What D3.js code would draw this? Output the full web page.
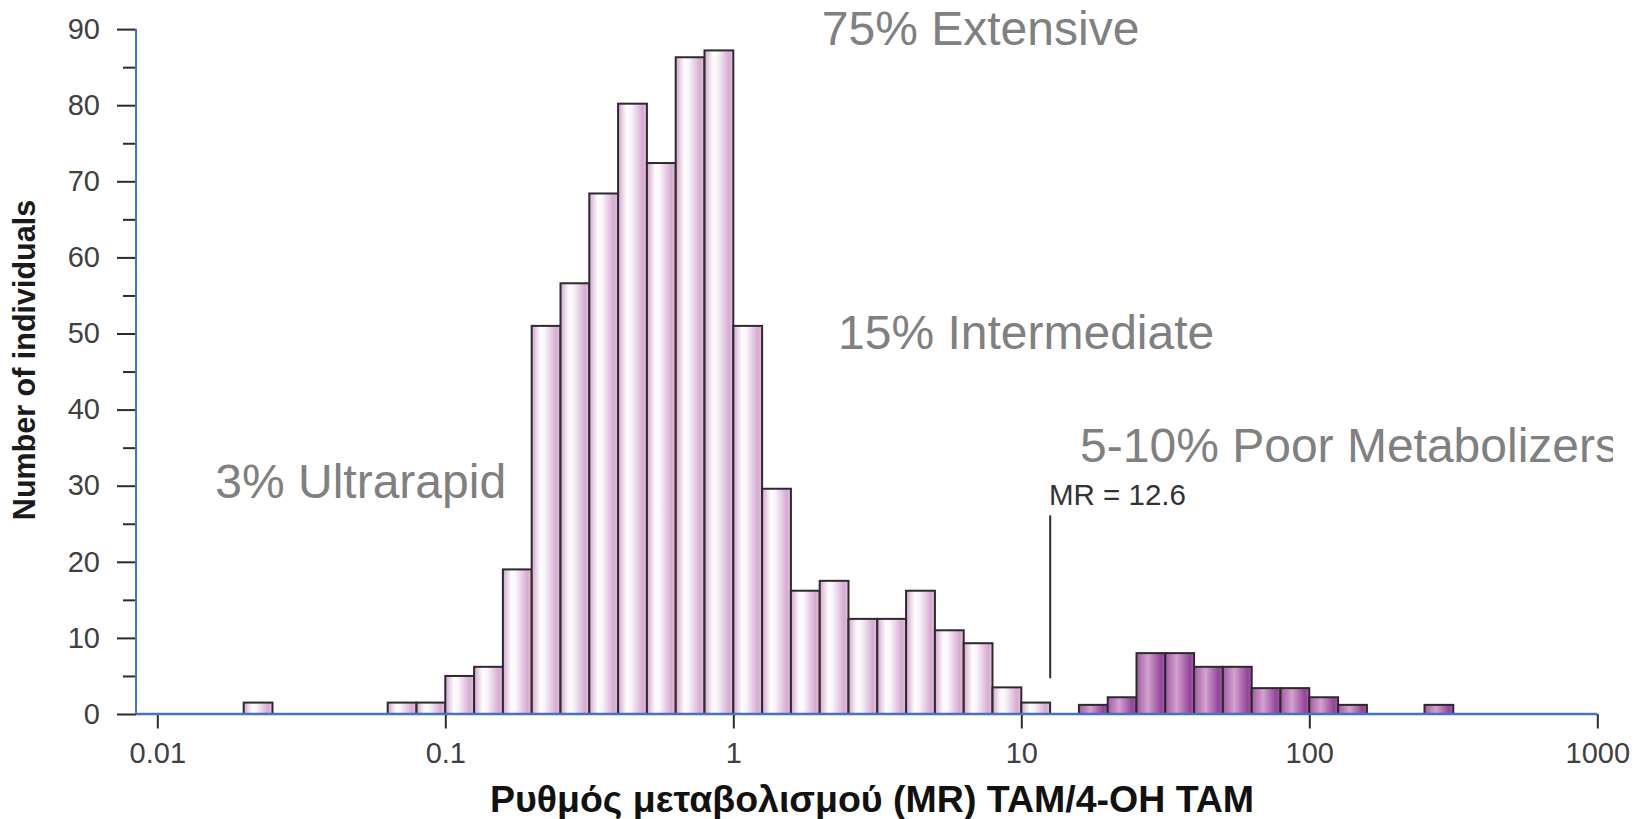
<!DOCTYPE html>
<html>
<head>
<meta charset="utf-8">
<script src="https://cdn.jsdelivr.net/npm/d3@7"></script>
<style>
  html, body { margin: 0; padding: 0; background: #ffffff; }
  svg { display: block; }
  text { font-family: "Liberation Sans", Arial, Helvetica, sans-serif; }
</style>
</head>
<body>
<svg id="chart" width="1644" height="819"></svg>
<script>
// Histogram of tamoxifen metabolic ratio (log bins, 10 per decade).
// Each bin is identified by the log10 of its lower edge.
const binWidthExp = 0.1;

// Ultrarapid / extensive / intermediate metabolizers
const mainBinExps = [-1.7, -1.2, -1.1, -1.0, -0.9, -0.8, -0.7, -0.6, -0.5, -0.4,
                     -0.3, -0.2, -0.1, 0.0, 0.1, 0.2, 0.3, 0.4, 0.5, 0.6,
                     0.7, 0.8, 0.9, 1.0];
const mainCounts   = [1.5, 1.5, 1.5, 5, 6.2, 19, 51, 56.6, 68.4, 80.2,
                      72.4, 86.3, 87.2, 51, 29.6, 16.2, 17.5, 12.5, 12.5, 16.2,
                      11, 9.3, 3.5, 1.5];

// Poor metabolizers
const poorBinExps = [1.2, 1.3, 1.4, 1.5, 1.6, 1.7, 1.8, 1.9, 2.0, 2.1, 2.4];
const poorCounts  = [1.2, 2.2, 8, 8, 6.2, 6.2, 3.4, 3.4, 2.2, 1.2, 1.2];

// Axis ticks
const xTickValues = [0.01, 0.1, 1, 10, 100, 1000];
const xTickLabels = ["0.01", "0.1", "1", "10", "100", "1000"];
const yMajorTicks = [0, 10, 20, 30, 40, 50, 60, 70, 80, 90];
const yMinorTicks = [5, 15, 25, 35, 45, 55, 65, 75, 85];

// Cut-off between intermediate and poor metabolizers
const mrCutoff = 12.6;
const mrLineRange = [4.7, 26.1];

// Group labels, anchored in data coordinates (MR, count)
const groupLabels = [
  { text: "75% Extensive",           mr: 2.03,   count: 87.9 },
  { text: "15% Intermediate",        mr: 2.31,   count: 47.95 },
  { text: "5-10% Poor Metabolizers", mr: 16.0,   count: 33.15 },
  { text: "3% Ultrarapid",           mr: 0.0159, count: 28.4 }
];

const svg = d3.select("#chart");

const x = d3.scaleLog().domain([0.01, 1000]).range([157.3, 1597.3]);
const y = d3.scaleLinear().domain([0, 90]).range([714, 29.1]);
const axisX0 = 136; // position of the vertical axis line

// Gradients for the cylinder-like bar shading
const defs = svg.append("defs");
function gradient(id, stops) {
  const g = defs.append("linearGradient").attr("id", id)
    .attr("x1", 0).attr("x2", 1).attr("y1", 0).attr("y2", 0);
  stops.forEach(([o, c]) => g.append("stop").attr("offset", o).attr("stop-color", c));
}
gradient("gradMain", [[0, "#d3a4ce"], [0.3, "#ffffff"], [0.45, "#fbf4fa"], [0.85, "#d7aad3"], [1, "#e4c7e1"]]);
gradient("gradPoor", [[0, "#a25aa5"], [0.4, "#d3a2cf"], [0.85, "#93449a"], [1, "#a65eaa"]]);

// The annotation text is cut at the right edge of the figure area
defs.append("clipPath").attr("id", "textClip")
  .append("rect").attr("x", 0).attr("y", 0).attr("width", 1613).attr("height", 819);

function drawBars(exps, counts, fill, cls) {
  const data = exps.map((e, i) => ({ lo: Math.pow(10, e), hi: Math.pow(10, e + binWidthExp), n: counts[i] }));
  svg.append("g").attr("class", cls)
    .selectAll("rect").data(data).join("rect")
    .attr("x", d => x(d.lo))
    .attr("width", d => x(d.hi) - x(d.lo))
    .attr("y", d => y(d.n))
    .attr("height", d => y(0) - y(d.n))
    .attr("fill", fill)
    .attr("stroke", "#2b2b2b")
    .attr("stroke-width", 2);
}
drawBars(mainBinExps, mainCounts, "url(#gradMain)", "bars-main");
drawBars(poorBinExps, poorCounts, "url(#gradPoor)", "bars-poor");

// Y axis: major ticks with labels, minor ticks without
const yMajor = svg.append("g").attr("transform", `translate(${axisX0},0)`)
  .call(d3.axisLeft(y).tickValues(yMajorTicks).tickSize(19).tickPadding(17).tickFormat(d3.format("d")));
const yMinor = svg.append("g").attr("transform", `translate(${axisX0},0)`)
  .call(d3.axisLeft(y).tickValues(yMinorTicks).tickSize(13).tickFormat(""));
[yMajor, yMinor].forEach(g => {
  g.select(".domain").remove();
  g.selectAll(".tick line").attr("stroke", "#2b2b2b").attr("stroke-width", 2);
});
yMajor.selectAll(".tick text")
  .attr("font-size", 29).attr("fill", "#404040")
  .attr("font-family", "Liberation Sans, Arial, sans-serif");

// X axis: decade ticks
const xAxis = svg.append("g").attr("transform", `translate(0,${y(0)})`)
  .call(d3.axisBottom(x).tickValues(xTickValues).tickSize(14.5)
    .tickFormat((d, i) => xTickLabels[i]));
xAxis.select(".domain").remove();
xAxis.selectAll(".tick line").attr("stroke", "#2b2b2b").attr("stroke-width", 2);
xAxis.selectAll(".tick text")
  .attr("y", 48.7).attr("dy", 0)
  .attr("font-size", 29).attr("fill", "#404040")
  .attr("font-family", "Liberation Sans, Arial, sans-serif");

// Blue axis lines
svg.append("line")
  .attr("x1", axisX0).attr("x2", axisX0).attr("y1", y(0)).attr("y2", y(90))
  .attr("stroke", "#4472c4").attr("stroke-width", 2);
svg.append("line")
  .attr("x1", axisX0).attr("x2", x(1000)).attr("y1", y(0)).attr("y2", y(0))
  .attr("stroke", "#4472c4").attr("stroke-width", 2.5);

// MR cut-off marker
svg.append("line")
  .attr("x1", x(mrCutoff)).attr("x2", x(mrCutoff))
  .attr("y1", y(mrLineRange[1])).attr("y2", y(mrLineRange[0]))
  .attr("stroke", "#2b2b2b").attr("stroke-width", 2);
svg.append("text")
  .attr("x", 1049).attr("y", 505)
  .attr("font-size", 29.5).attr("fill", "#333333")
  .text("MR = " + mrCutoff);

// Group annotations
svg.append("g").selectAll("text").data(groupLabels).join("text")
  .attr("x", d => x(d.mr)).attr("y", d => y(d.count))
  .attr("font-size", 48).attr("fill", "#808080")
  .attr("clip-path", "url(#textClip)")
  .text(d => d.text);

// Axis titles
svg.append("text")
  .attr("transform", "translate(35,360) rotate(-90)")
  .attr("text-anchor", "middle")
  .attr("font-size", 30.5).attr("font-weight", "bold").attr("fill", "#1a1a1a")
  .text("Number of individuals");
svg.append("text")
  .attr("x", 872).attr("y", 811.5)
  .attr("text-anchor", "middle")
  .attr("font-size", 37.5).attr("font-weight", "bold").attr("fill", "#111111")
  .text("Ρυθμός μεταβολισμού (MR) TAM/4-OH TAM");
</script>
</body>
</html>
